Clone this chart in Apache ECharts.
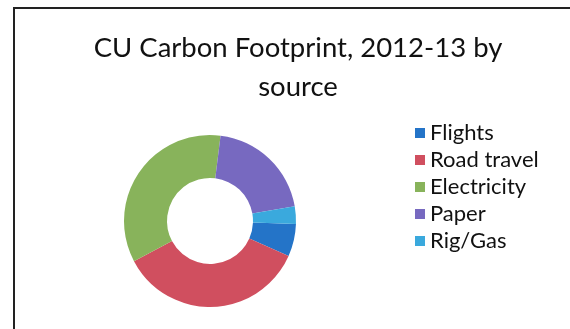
<!DOCTYPE html>
<html>
<head>
<meta charset="utf-8">
<script src="https://cdn.jsdelivr.net/npm/echarts@6/dist/echarts.min.js"></script>
<style>
html,body{margin:0;padding:0;background:#fff;}
#chart{width:570px;height:329px;}
</style>
</head>
<body>
<div id="chart"></div>
<script>
const categories = ['Flights', 'Road travel', 'Electricity', 'Paper', 'Rig/Gas'];
const shares = [6.1, 35.6, 34.7, 20.3, 3.3];
const colors = ['#2474c8', '#d04f5f', '#88b35b', '#7769c0', '#3aa9dd'];
const titleText = 'CU Carbon Footprint, 2012-13 by\nsource';

const chart = echarts.init(document.getElementById('chart'), null, {renderer: 'canvas'});
chart.setOption({
  animation: false,
  backgroundColor: '#ffffff',
  title: {
    text: titleText,
    left: 293,
    textAlign: 'center',
    top: 24,
    textStyle: {
      fontFamily: 'Lato',
      fontSize: 27.5,
      fontWeight: 'normal',
      color: '#111',
      lineHeight: 39
    }
  },
  legend: {
    orient: 'vertical',
    left: 410,
    top: 117,
    itemWidth: 10,
    itemHeight: 10,
    itemGap: 5,
    icon: 'rect',
    textStyle: {
      fontFamily: 'Lato',
      fontSize: 22,
      color: '#111',
      padding: [0, 0, 0, 0]
    },
    data: categories
  },
  graphic: [{
    type: 'polyline',
    shape: {points: [[14, 329], [14, 8], [570, 8]]},
    style: {stroke: '#222', lineWidth: 2, fill: null}
  }],
  series: [{
    type: 'pie',
    center: [210, 221],
    radius: [43, 86],
    startAngle: -2,
    clockwise: true,
    label: {show: false},
    labelLine: {show: false},
    itemStyle: {borderWidth: 0},
    data: categories.map((c, i) => ({name: c, value: shares[i], itemStyle: {color: colors[i]}}))
  }]
});
</script>
</body>
</html>
